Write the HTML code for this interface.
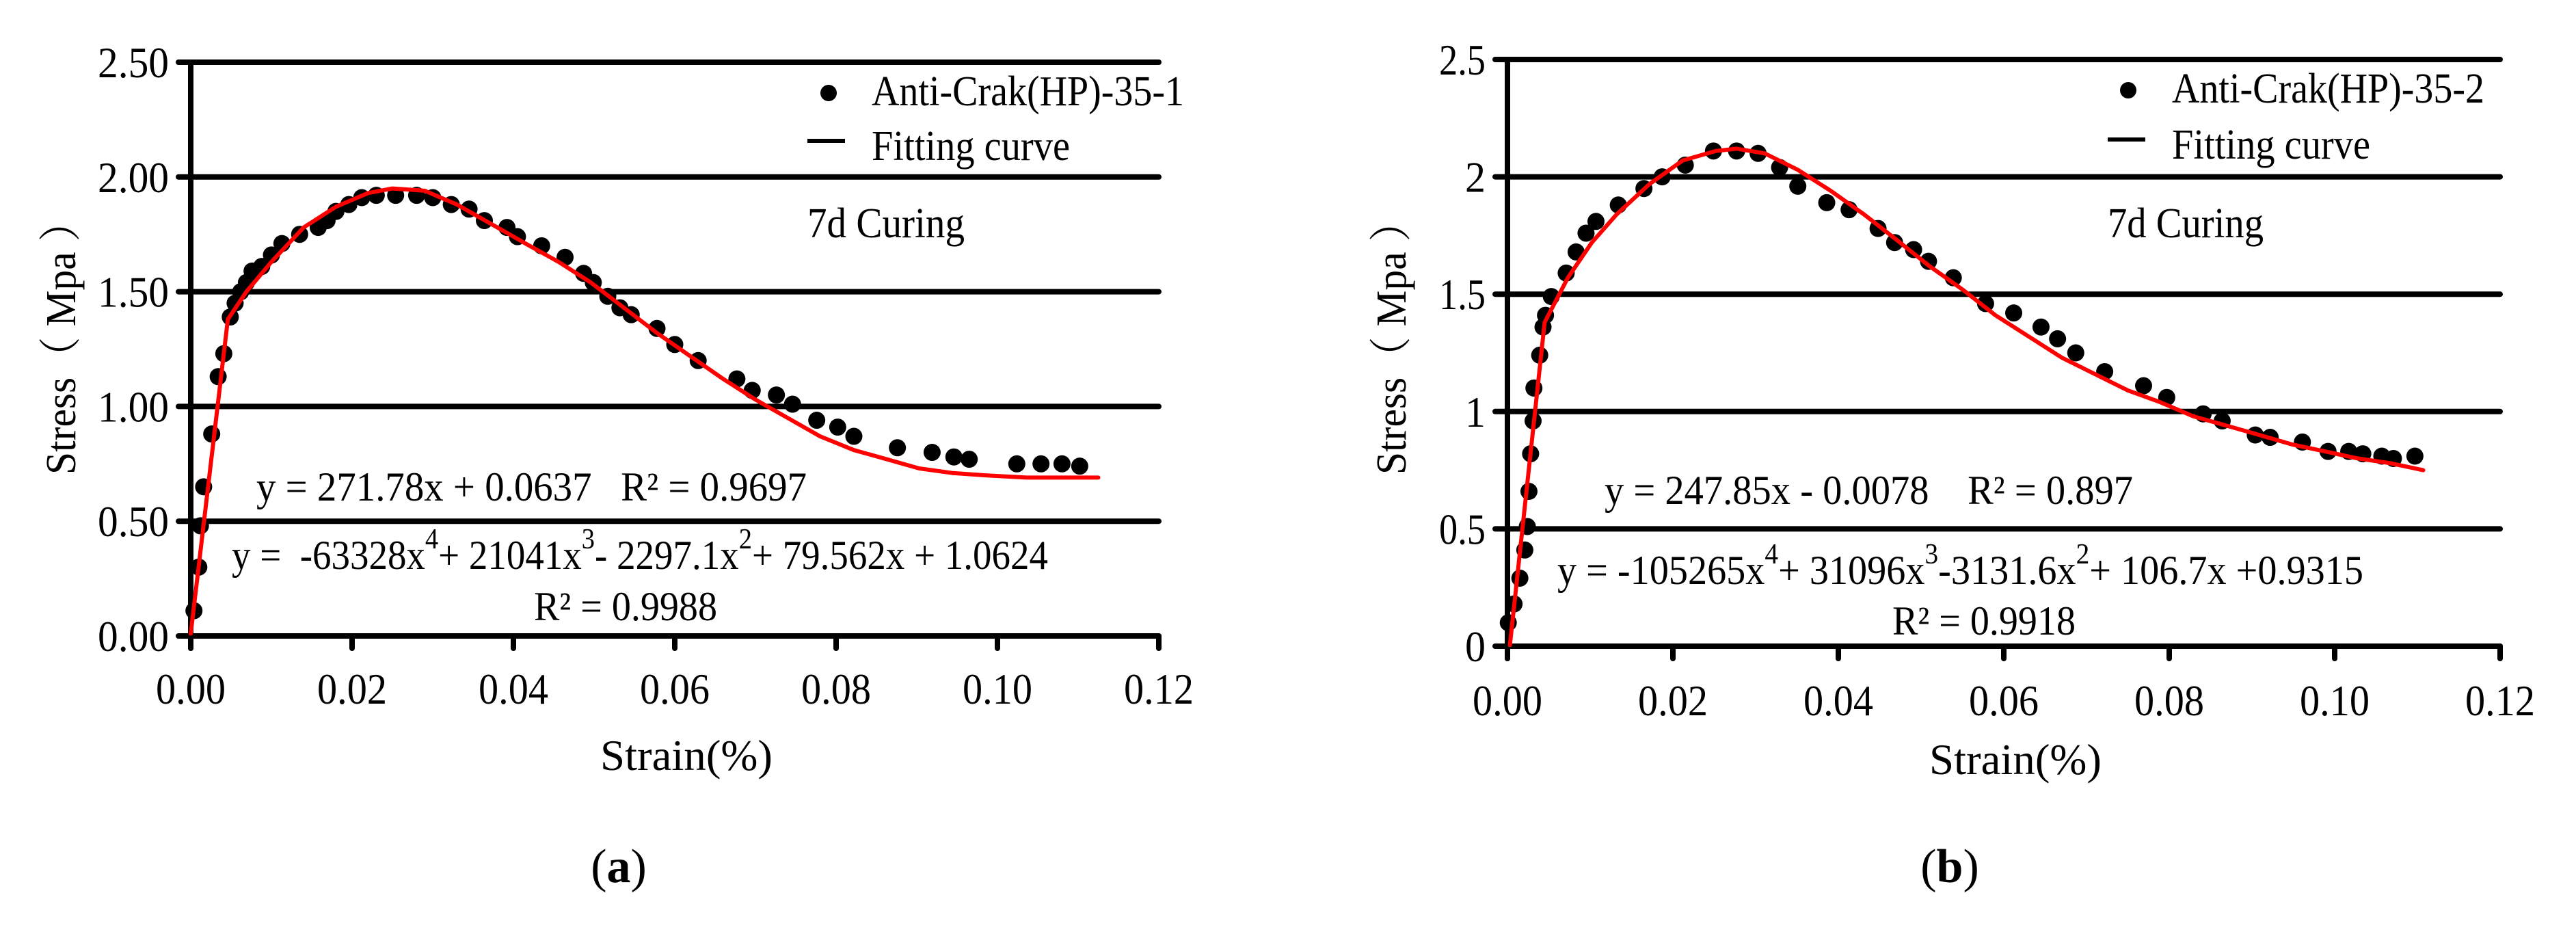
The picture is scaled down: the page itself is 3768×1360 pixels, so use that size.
<!DOCTYPE html>
<html><head><meta charset="utf-8">
<style>
html,body{margin:0;padding:0;background:#fff;}
svg{display:block;}
text{font-family:"Liberation Serif","DejaVu Serif",serif;fill:#000;white-space:pre;}
text.cjk{font-family:"Liberation Serif","Noto Serif CJK SC",serif;}
</style></head>
<body>
<svg id="fig" width="3768" height="1360" viewBox="0 0 3768 1360" xmlns="http://www.w3.org/2000/svg" font-family="Liberation Serif, DejaVu Serif, serif"></svg>
<script>
// ---- Chart (a) data ----
const aStrain = [0.0004,0.001,0.0012,0.0016,0.0026,0.0034,0.0041,0.0049,0.0055,0.0062,0.0069,0.0076,0.0088,0.010,0.0113,0.0135,0.0158,0.0169,0.018,0.0196,0.0212,0.023,0.0254,0.028,0.030,0.0323,0.0345,0.0364,0.0392,0.0405,0.0435,0.0464,0.0487,0.0499,0.0517,0.0532,0.0546,0.0578,0.060,0.0629,0.0677,0.0696,0.0726,0.0746,0.0776,0.0802,0.0822,0.0876,0.0919,0.0946,0.0965,0.1024,0.1054,0.108,0.1102];
const aStress = [0.11,0.30,0.48,0.65,0.88,1.13,1.23,1.39,1.45,1.50,1.54,1.59,1.61,1.66,1.71,1.75,1.78,1.81,1.85,1.88,1.91,1.92,1.92,1.92,1.91,1.88,1.86,1.81,1.78,1.74,1.70,1.65,1.58,1.54,1.48,1.43,1.40,1.34,1.27,1.20,1.12,1.07,1.05,1.01,0.94,0.91,0.87,0.82,0.80,0.78,0.77,0.75,0.75,0.75,0.74];
const aFitX = [0,0.0046,0.0069,0.010,0.014,0.018,0.022,0.025,0.029,0.033,0.037,0.0415,0.0456,0.0496,0.0537,0.0578,0.0619,0.066,0.070,0.074,0.078,0.0822,0.0863,0.0903,0.0944,0.0985,0.1036,0.1087,0.1125];
const aFitY = [0.01,1.38,1.50,1.63,1.78,1.87,1.93,1.95,1.94,1.88,1.80,1.71,1.63,1.54,1.43,1.32,1.22,1.12,1.03,0.95,0.87,0.81,0.77,0.73,0.71,0.70,0.69,0.69,0.69];
const aYTicks = ["0.00","0.50","1.00","1.50","2.00","2.50"];
// ---- Chart (b) data ----
const bStrain = [0.0001,0.0008,0.0015,0.0021,0.0024,0.0026,0.0028,0.0031,0.0032,0.0039,0.0043,0.0046,0.0053,0.0071,0.0083,0.0095,0.0107,0.0134,0.0165,0.0187,0.0215,0.0249,0.0277,0.0303,0.0329,0.0351,0.0386,0.0413,0.0448,0.0468,0.0491,0.0509,0.0539,0.0578,0.0612,0.0645,0.0665,0.0687,0.0722,0.0769,0.0797,0.0841,0.0864,0.0904,0.0922,0.0961,0.0992,0.1017,0.1034,0.1057,0.1071,0.1097];
const bStress = [0.10,0.18,0.29,0.41,0.51,0.66,0.82,0.96,1.10,1.24,1.36,1.41,1.49,1.59,1.68,1.76,1.81,1.88,1.95,2.00,2.05,2.11,2.11,2.10,2.04,1.96,1.89,1.86,1.78,1.72,1.69,1.64,1.57,1.46,1.42,1.36,1.31,1.25,1.17,1.11,1.06,0.99,0.96,0.90,0.89,0.87,0.83,0.83,0.82,0.81,0.80,0.81];
const bFitX = [0.0003,0.0045,0.0073,0.0102,0.0132,0.0172,0.0212,0.0252,0.0277,0.0311,0.0351,0.0391,0.0431,0.0471,0.051,0.055,0.059,0.063,0.067,0.071,0.075,0.0789,0.0829,0.0869,0.0909,0.0948,0.0988,0.1028,0.1067,0.1107];
const bFitY = [0.005,1.38,1.57,1.72,1.84,1.97,2.07,2.11,2.12,2.10,2.03,1.94,1.84,1.73,1.62,1.52,1.41,1.32,1.23,1.16,1.09,1.04,0.98,0.94,0.90,0.86,0.83,0.80,0.78,0.75];
const bYTicks = ["0","0.5","1","1.5","2","2.5"];
const xTicks = ["0.00","0.02","0.04","0.06","0.08","0.10","0.12"];

const NS="http://www.w3.org/2000/svg";
const FONT="Liberation Serif, DejaVu Serif, serif";
const svg=document.getElementById('fig');
function mk(tag,attrs,parent){const e=document.createElementNS(NS,tag);for(const k in attrs)e.setAttribute(k,attrs[k]);(parent||svg).appendChild(e);return e;}
function txt(parent,x,y,s,size,len,anchor){const t=mk('text',{x:x,y:y,'font-size':size,'text-anchor':anchor||'start','font-family':FONT},parent);t.setAttributeNS('http://www.w3.org/XML/1998/namespace','xml:space','preserve');if(len){t.setAttribute('textLength',len);t.setAttribute('lengthAdjust','spacingAndGlyphs');}t.textContent=s;return t;}

function chart(cfg){
  const g=mk('g',{});
  
  
  const X=v=>cfg.x0+(v/0.12)*(cfg.x1-cfg.x0);
  const Y=v=>cfg.y0-(v/2.5)*(cfg.y0-cfg.yTop);
  cfg.yTicks.forEach((lab,i)=>{
    const v=i*0.5,y=Y(v);
    const l=mk('line',{x1:cfg.x0-18,x2:cfg.x1,y1:y,y2:y,stroke:'#000','stroke-width':8,'stroke-linecap':'round'},g);
    
    
    const t=txt(g,cfg.x0-32,y+22,lab,64,cfg.yLabW[i],'end');
    
    
  });
  const ya=mk('line',{x1:cfg.x0,x2:cfg.x0,y1:cfg.yTop,y2:cfg.y0+18,stroke:'#000','stroke-width':8,'stroke-linecap':'round'},g);
  
  
  xTicks.forEach((lab,i)=>{
    const x=X(i*0.02);
    const tk=mk('line',{x1:x,x2:x,y1:cfg.y0,y2:cfg.y0+18,stroke:'#000','stroke-width':8,'stroke-linecap':'round'},g);
    
    
    const t=txt(g,x,cfg.xLabY,lab,64,102,'middle');
    
    
  });
  cfg.sx.forEach((v,i)=>{
    const c=mk('circle',{cx:X(v),cy:Y(cfg.sy[i]),r:12.5,fill:'#000'},g);
    
    
  });
  const d=cfg.fx.map((v,i)=>(i?'L':'M')+X(v).toFixed(1)+' '+Y(cfg.fy[i]).toFixed(1)).join(' ');
  const p=mk('path',{d:d,fill:'none',stroke:'#ff0000','stroke-width':6,'stroke-linejoin':'round','stroke-linecap':'round'},g);
  
  
  const ld=mk('circle',{cx:cfg.legDot[0],cy:cfg.legDot[1],r:12,fill:'#000'},g);
  
  
  const lt=txt(g,cfg.legTx,cfg.legDot[1]+18,cfg.series,62,cfg.legW);
  
  
  const ll=mk('line',{x1:cfg.legLine[0],x2:cfg.legLine[1],y1:cfg.legLine[2],y2:cfg.legLine[2],stroke:'#000','stroke-width':6},g);
  
  
  const lf=txt(g,cfg.legTx,cfg.legLine[2]+28,'Fitting curve',62,cfg.fitW);
  
  
  const cu=txt(g,cfg.legLine[0],347,'7d Curing',62,cfg.curW);
  
  
  const e1=txt(g,cfg.lin[0],cfg.lin[1],cfg.linTxt,60,cfg.lin[2]);
  
  
  const e2=mk('text',{x:cfg.poly[0],y:cfg.poly[1],'font-size':60,'font-family':FONT,textLength:cfg.poly[2],lengthAdjust:'spacingAndGlyphs'},g);
  
  
  cfg.polyParts.forEach(pt=>{
    const s=mk('tspan',{},e2);
    if(pt[1]){s.setAttribute('font-size',42);s.setAttribute('dy',-30);}
    else if(pt[2]){s.setAttribute('dy',30);}
    s.textContent=pt[0];
  });
  const e3=txt(g,cfg.r2[0],cfg.r2[1],cfg.r2Txt,60,cfg.r2[2]);
  
  
  const yt=txt(g,0,0,'Stress（ Mpa ）',62,400,'middle');
  yt.setAttribute('class','cjk');
  yt.setAttribute('font-family','Liberation Serif, Noto Serif CJK SC, serif');
  yt.setAttribute('transform','translate('+cfg.yTitleX+',494) rotate(-90)');
  
  
  const xt=txt(g,cfg.xTitleX,cfg.xTitleY,'Strain(%)',64,252,'middle');
  
  
  const cap=mk('text',{x:cfg.capX,y:1290,'font-size':70,'text-anchor':'middle','font-family':FONT},g);
  
  
  const a1=mk('tspan',{},cap);a1.textContent='(';
  const a2=mk('tspan',{'font-weight':'bold'},cap);a2.textContent=cfg.capL;
  const a3=mk('tspan',{},cap);a3.textContent=')';
}

chart({name:'chart-a',x0:279,x1:1695,y0:930,yTop:91,yTicks:aYTicks,yLabW:[104,104,104,104,104,104],xLabY:1029,
  sx:aStrain,sy:aStress,fx:aFitX,fy:aFitY,series:'Anti-Crak(HP)-35-1',legDot:[1212,136],legTx:1275,legW:457,
  legLine:[1181,1236,206],fitW:290,curW:230,
  lin:[375,732,805],linTxt:'y = 271.78x + 0.0637   R² = 0.9697',
  poly:[339,832,1194],polyParts:[['y =  -63328x'],['4',1],['+ 21041x',0,1],['3',1],['- 2297.1x',0,1],['2',1],['+ 79.562x + 1.0624',0,1]],
  r2:[781,907,268],r2Txt:'R² = 0.9988',yTitleX:110,xTitleX:1004,xTitleY:1126,capX:905,capL:'a'});

chart({name:'chart-b',x0:2205,x1:3657,y0:945,yTop:87,yTicks:bYTicks,yLabW:[30,68,30,68,30,68],xLabY:1046,
  sx:bStrain,sy:bStress,fx:bFitX,fy:bFitY,series:'Anti-Crak(HP)-35-2',legDot:[3113,132],legTx:3177,legW:457,
  legLine:[3083,3138,204],fitW:290,curW:228,
  lin:[2347,737,773],linTxt:'y = 247.85x - 0.0078    R² = 0.897',
  poly:[2278,854,1179],polyParts:[['y = -105265x'],['4',1],['+ 31096x',0,1],['3',1],['-3131.6x',0,1],['2',1],['+ 106.7x +0.9315',0,1]],
  r2:[2768,928,268],r2Txt:'R² = 0.9918',yTitleX:2056,xTitleX:2948,xTitleY:1132,capX:2852,capL:'b'});
</script>
</body></html>
